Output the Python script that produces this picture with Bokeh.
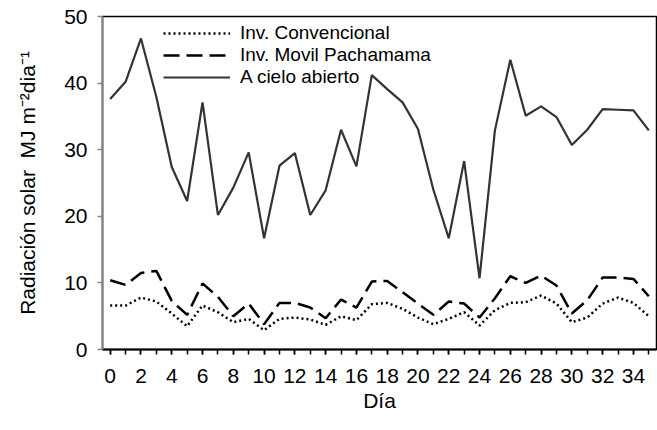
from bokeh.plotting import figure
from bokeh.models import ColumnDataSource, FixedTicker, Legend, LegendItem, Range1d
from bokeh.embed import file_html
from bokeh.resources import INLINE

# Daily solar radiation (MJ m-2 dia-1) over 36 days
days = list(range(36))
conv = [6.6, 6.6, 7.8, 7.2, 5.4, 3.5, 6.6, 5.6, 4.1, 4.6, 2.9, 4.6, 4.8, 4.5, 3.7, 5.0, 4.4, 6.8,
        7.0, 6.1, 4.8, 3.8, 4.6, 5.6, 3.6, 5.9, 7.0, 7.1, 8.1, 6.9, 4.1, 4.8, 6.9, 7.8, 7.0, 5.0]
movil = [10.4, 9.7, 11.5, 11.8, 7.3, 5.2, 9.9, 7.9, 5.0, 6.9, 3.8, 7.0, 7.0, 6.3, 4.7, 7.5, 6.3, 10.2,
         10.3, 8.6, 6.9, 5.2, 7.2, 6.9, 4.8, 7.7, 11.0, 10.0, 11.1, 9.6, 5.4, 7.4, 10.8, 10.8, 10.6, 8.0]
cielo = [37.6, 40.2, 46.7, 37.9, 27.4, 22.3, 37.1, 20.2, 24.3, 29.6, 16.7, 27.6, 29.5, 20.2, 23.9, 33.0,
         27.5, 41.2, 39.1, 37.1, 33.1, 24.0, 16.7, 28.3, 10.7, 32.9, 43.5, 35.1, 36.5, 34.9, 30.7, 33.0,
         36.1, 36.0, 35.9, 32.9]

series_names = ["Inv. Convencional", "Inv. Movil Pachamama", "A cielo abierto"]
x_tick_labels = list(range(0, 35, 2))
y_ticks = [0, 10, 20, 30, 40, 50]

FONT = "Liberation Sans"

src = ColumnDataSource(dict(day=days, conv=conv, movil=movil, cielo=cielo))

p = figure(width=657, height=430, output_backend="svg", toolbar_location=None,
           x_range=Range1d(-0.5, 35.5), y_range=Range1d(0, 50),
           min_border_left=102, min_border_right=1, min_border_top=16, min_border_bottom=81)
p.background_fill_color = "white"
p.border_fill_color = "white"
p.outline_line_color = "black"
p.outline_line_width = 1.5
p.xgrid.visible = False
p.ygrid.visible = False

r_conv = p.line("day", "conv", source=src, line_color="black", line_width=2.5, line_dash="2 3")
r_movil = p.line("day", "movil", source=src, line_color="black", line_width=2.5, line_dash="16 7")
r_cielo = p.line("day", "cielo", source=src, line_color="#333333", line_width=2.2)

# x axis: a tick on every day, a label on every second day
xa = p.xaxis[0]
xa.ticker = FixedTicker(ticks=x_tick_labels, minor_ticks=days)
xa.axis_label = "Día"
xa.axis_label_text_font = FONT
xa.axis_label_text_font_size = "21px"
xa.axis_label_text_font_style = "normal"
xa.axis_label_text_color = "black"
xa.axis_label_standoff = 3
xa.major_label_text_font = FONT
xa.major_label_text_font_size = "21px"
xa.major_label_text_color = "black"
xa.major_label_standoff = 14
xa.axis_line_color = "black"
xa.axis_line_width = 2
xa.major_tick_line_color = "black"
xa.major_tick_line_width = 1.5
xa.major_tick_in = 0
xa.major_tick_out = 5
xa.minor_tick_line_color = "black"
xa.minor_tick_line_width = 1.5
xa.minor_tick_in = 0
xa.minor_tick_out = 5

ya = p.yaxis[0]
ya.ticker = FixedTicker(ticks=y_ticks, minor_ticks=[])
ya.axis_label = "Radiación solar\u00a0\u00a0MJ m\u207b\u00b2dia\u207b\u00b9"
ya.axis_label_text_font = FONT
ya.axis_label_text_font_size = "21px"
ya.axis_label_text_font_style = "normal"
ya.axis_label_text_color = "black"
ya.axis_label_standoff = 22
ya.major_label_text_font = FONT
ya.major_label_text_font_size = "21px"
ya.major_label_text_color = "black"
ya.major_label_standoff = 10
ya.axis_line_color = "#868686"
ya.axis_line_width = 2
ya.major_tick_line_color = "#868686"
ya.major_tick_line_width = 1.5
ya.major_tick_in = 0
ya.major_tick_out = 5
ya.minor_tick_line_color = None

legend = Legend(
    items=[LegendItem(label=n, renderers=[r]) for n, r in zip(series_names, [r_conv, r_movil, r_cielo])],
    location=(61, 261), glyph_width=67, glyph_height=22, label_height=22, spacing=0, padding=0,
    margin=0, label_standoff=10, border_line_color=None, background_fill_alpha=0,
    label_text_font=FONT, label_text_font_size="19px", label_text_color="black",
)
p.add_layout(legend)

open("out.html", "w").write(file_html(p, INLINE))
